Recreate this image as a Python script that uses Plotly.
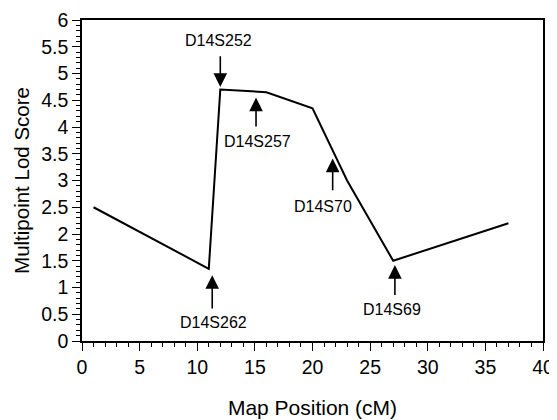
import plotly.graph_objects as go

# Data
map_position = [1, 11, 12, 16, 20, 23, 27, 37]
lod_score = [2.5, 1.35, 4.7, 4.65, 4.35, 3.0, 1.5, 2.2]

marker_names = ["D14S252", "D14S257", "D14S70", "D14S262", "D14S69"]
marker_x = [12.0, 15.1, 21.75, 11.3, 27.15]
arrow_tip = [4.75, 4.55, 3.41, 1.23, 1.42]
arrow_tail = [5.35, 3.98, 2.79, 0.58, 0.83]
label_x = [11.8, 15.2, 20.9, 11.4, 26.9]
label_y = [5.61, 3.72, 2.51, 0.34, 0.59]

x_ticks = [0, 5, 10, 15, 20, 25, 30, 35, 40]
y_ticks = [0, 0.5, 1, 1.5, 2, 2.5, 3, 3.5, 4, 4.5, 5, 5.5, 6]

FONT = "Liberation Sans, Arial, Helvetica, sans-serif"

fig = go.Figure()
fig.add_trace(go.Scatter(x=map_position, y=lod_score, mode="lines",
                         line=dict(color="black", width=2), showlegend=False,
                         hoverinfo="skip"))

annotations = []
for name, mx, tip, tail, lx, ly in zip(marker_names, marker_x, arrow_tip, arrow_tail, label_x, label_y):
    annotations.append(dict(x=mx, y=tip, ax=mx, ay=tail, axref="x", ayref="y",
                            xref="x", yref="y", text="", showarrow=True,
                            arrowhead=2, arrowsize=1.7, arrowwidth=1.6, arrowcolor="black"))
    annotations.append(dict(x=lx, y=ly, xref="x", yref="y", text=name, showarrow=False,
                            font=dict(family=FONT, size=16, color="black"),
                            xanchor="center", yanchor="middle"))

fig.update_layout(
    width=557, height=420,
    margin=dict(l=74, r=22, t=12, b=87),
    paper_bgcolor="white", plot_bgcolor="white",
    font=dict(family=FONT, color="black"),
    annotations=annotations,
    xaxis=dict(range=[0, 40], tickvals=x_ticks, ticktext=[str(v) for v in x_ticks],
               ticks="outside", ticklen=8, tickwidth=1.2, tickcolor="black",
               minor=dict(dtick=1, tick0=0, ticks="outside", ticklen=4, tickcolor="black", tickwidth=1),
               showline=True, linecolor="black", linewidth=1.5, mirror=True,
               showgrid=False, zeroline=False, automargin=False,
               tickfont=dict(family=FONT, size=19.5, color="black"),
               title=dict(text="Map Position (cM)", font=dict(family=FONT, size=21, color="black"), standoff=23)),
    yaxis=dict(range=[0, 6], tickvals=y_ticks, ticktext=[f"{v:g}" for v in y_ticks],
               ticks="outside", ticklen=8, tickwidth=1.2, tickcolor="black",
               minor=dict(dtick=0.1, tick0=0, ticks="outside", ticklen=4, tickcolor="black", tickwidth=1),
               showline=True, linecolor="black", linewidth=1.5, mirror=True,
               showgrid=False, zeroline=False, automargin=False,
               tickfont=dict(family=FONT, size=19.5, color="black"),
               title=dict(text="Multipoint Lod Score", font=dict(family=FONT, size=20.5, color="black"), standoff=6)),
)

fig.write_html("out.html")
